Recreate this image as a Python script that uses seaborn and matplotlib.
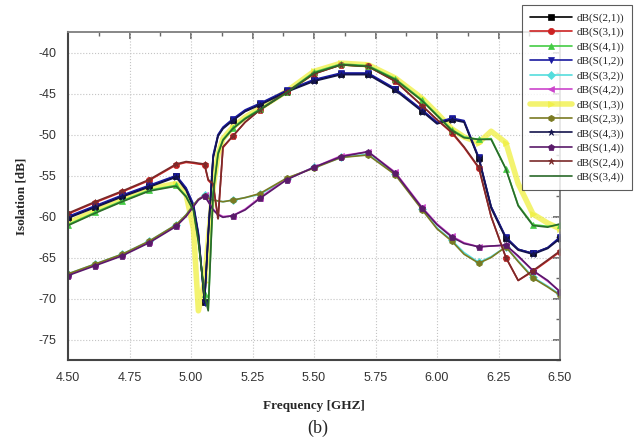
import matplotlib
matplotlib.use("Agg")
import matplotlib.pyplot as plt
import seaborn as sns
from matplotlib.ticker import MultipleLocator

sns.set_theme(style="white")
plt.rcParams['font.family'] = ['Liberation Sans', 'DejaVu Sans']
plt.rcParams['axes.unicode_minus'] = False

# Frequency grid (GHz)
freq = [4.50, 4.61, 4.72, 4.83, 4.94, 4.98, 5.01, 5.03, 5.055, 5.07, 5.09, 5.11, 5.13,
        5.17, 5.22, 5.28, 5.39, 5.50, 5.61, 5.72, 5.83, 5.94, 6.00, 6.06, 6.11, 6.17,
        6.22, 6.28, 6.33, 6.39, 6.45, 6.50]
marker_idx = [0, 1, 2, 3, 4, 8, 13, 15, 16, 17, 18, 19, 20, 21, 23, 25, 27, 29, 31]

s21 = [-60.1, -58.8, -57.5, -56.3, -55.1, -56.6, -58.7, -62.2, -70.4, -62.2, -52.7, -50.1, -49.2,
       -48.2, -47.1, -46.3, -44.7, -43.4, -42.6, -42.6, -44.5, -47.1, -48.6, -48.1, -48.4, -52.9,
       -58.8, -62.6, -64.0, -64.5, -63.8, -62.6]
s31 = [-59.7, -58.3, -57.0, -55.6, -53.7, -53.4, -53.5, -53.6, -53.7, -55.6, -56.2, -60.2, -51.6,
       -50.2, -48.5, -47.0, -44.8, -42.6, -41.5, -41.7, -43.5, -46.5, -48.2, -49.8, -51.6, -54.1,
       -60.0, -65.0, -67.8, -66.7, -65.4, -64.3]
s41 = [-61.0, -59.5, -58.1, -56.8, -56.2, -57.5, -59.2, -63.0, -69.5, -71.3, -57.0, -52.2, -50.6,
       -49.2, -48.0, -46.9, -44.8, -42.4, -41.4, -41.6, -43.2, -45.8, -47.6, -49.4, -50.3, -50.6,
       -50.5, -54.2, -58.6, -61.0, -61.2, -61.0]
s12 = [-60.0, -58.7, -57.4, -56.2, -55.0, -56.5, -58.5, -62.0, -70.5, -62.0, -52.5, -50.0, -49.1,
       -48.1, -47.0, -46.2, -44.6, -43.3, -42.5, -42.5, -44.4, -47.0, -48.5, -48.0, -48.3, -52.8,
       -58.8, -62.5, -64.0, -64.5, -63.8, -62.5]
s32 = [-67.0, -65.8, -64.6, -63.0, -61.0, -59.8, -58.6, -57.9, -57.4, -57.8, -58.0, -58.1, -58.2,
       -58.0, -57.7, -57.3, -55.4, -54.0, -52.8, -52.4, -54.8, -59.1, -61.4, -62.9, -64.4, -65.6,
       -64.9, -63.7, -65.4, -67.4, -68.5, -69.5]
s42 = [-67.1, -65.9, -64.7, -63.1, -61.1, -59.9, -58.7, -57.9, -57.4, -58.1, -59.1, -59.7, -60.0,
       -59.9, -59.1, -57.7, -55.4, -54.0, -52.6, -52.1, -54.6, -58.9, -60.9, -62.4, -63.2, -63.7,
       -63.6, -63.5, -64.9, -66.6, -67.9, -69.1]
s13 = [-60.8, -59.3, -57.9, -56.6, -56.0, -57.3, -61.5, -71.5, -68.0, -63.0, -56.5, -52.4, -50.5,
       -49.1, -47.9, -46.8, -44.7, -42.3, -41.3, -41.5, -43.1, -45.6, -47.4, -49.3, -50.3, -51.0,
       -49.6, -51.0, -56.0, -59.7, -60.8, -61.5]
s23 = [-67.0, -65.8, -64.6, -63.0, -61.0, -59.8, -58.6, -57.9, -57.5, -57.8, -58.0, -58.1, -58.2,
       -58.0, -57.7, -57.2, -55.3, -54.1, -52.8, -52.5, -54.9, -59.2, -61.5, -63.0, -64.6, -65.7,
       -65.0, -63.7, -65.5, -67.5, -68.6, -69.6]
s43 = [-60.2, -58.9, -57.6, -56.4, -55.2, -56.8, -58.9, -62.4, -70.3, -62.4, -52.9, -50.2, -49.3,
       -48.3, -47.2, -46.4, -44.8, -43.5, -42.7, -42.7, -44.6, -47.2, -48.7, -48.2, -48.5, -53.0,
       -59.0, -62.7, -64.1, -64.6, -63.9, -62.7]
s14 = [-67.2, -66.0, -64.8, -63.2, -61.2, -60.0, -58.8, -58.0, -57.5, -58.2, -59.2, -59.8, -60.1,
       -59.9, -59.2, -57.8, -55.5, -54.0, -52.7, -52.1, -54.7, -59.0, -61.0, -62.5, -63.3, -63.7,
       -63.6, -63.5, -64.8, -66.6, -67.8, -69.2]
s24 = [-59.6, -58.2, -56.9, -55.5, -53.6, -53.3, -53.4, -53.5, -53.6, -55.5, -56.0, -60.3, -51.5,
       -50.2, -48.5, -47.0, -44.8, -42.6, -41.5, -41.7, -43.5, -46.5, -48.2, -49.7, -51.5, -54.0,
       -60.0, -65.0, -67.8, -66.6, -65.3, -64.2]
s34 = [-61.1, -59.6, -58.2, -56.9, -56.3, -57.6, -59.3, -63.1, -69.6, -71.5, -57.2, -52.4, -50.7,
       -49.3, -48.1, -47.0, -44.9, -42.5, -41.5, -41.7, -43.3, -45.9, -47.7, -49.5, -50.4, -50.6,
       -50.6, -54.2, -58.7, -61.1, -61.3, -60.9]

series = [
    ("dB(S(2,1))", s21, "#000000", "s", 1.2),
    ("dB(S(3,1))", s31, "#cc2222", "o", 1.2),
    ("dB(S(4,1))", s41, "#44cc44", "^", 1.2),
    ("dB(S(1,2))", s12, "#1a1aa0", "v", 1.2),
    ("dB(S(3,2))", s32, "#55dddd", "D", 1.2),
    ("dB(S(4,2))", s42, "#cc44cc", "<", 1.2),
    ("dB(S(1,3))", s13, "#f0f040", ">", 4.0),
    ("dB(S(2,3))", s23, "#7a7a22", "h", 1.2),
    ("dB(S(4,3))", s43, "#14144d", "*", 1.2),
    ("dB(S(1,4))", s14, "#5a1a6a", "p", 1.2),
    ("dB(S(2,4))", s24, "#7a2a2a", "*", 1.2),
    ("dB(S(3,4))", s34, "#2a6a2a", "", 1.2),
]

fig = plt.figure(figsize=(6.37, 4.41), dpi=100)
ax = fig.add_axes([68/637, 1-360/441, (560-68)/637, (360-32)/441])

order = [6] + [i for i in range(len(series)) if i != 6]
for i in order:
    name, vals, col, mk, lw = series[i]
    sns.lineplot(x=freq, y=vals, ax=ax, color=col, linewidth=lw,
                 marker=mk if mk else None, markevery=marker_idx, markersize=4.5,
                 markeredgewidth=0.5, markeredgecolor=col, label=name,
                 zorder=1 if i == 6 else 2, alpha=0.75 if i == 6 else 1.0)

ax.set_xlim(4.5, 6.5)
ax.set_ylim(-77.5, -37.5)
ax.xaxis.set_minor_locator(MultipleLocator(0.125))
ax.yaxis.set_major_locator(MultipleLocator(5))
ax.yaxis.set_minor_locator(MultipleLocator(2.5))
ax.set_xticks([4.5, 4.75, 5.0, 5.25, 5.5, 5.75, 6.0, 6.25, 6.5])
ax.set_xticklabels(["4.50", "4.75", "5.00", "5.25", "5.50", "5.75", "6.00", "6.25", "6.50"])
ax.grid(True, which="major", linestyle=":", color="#c4c4c4", linewidth=0.8)

for side in ["left", "bottom"]:
    ax.spines[side].set_color("#444444")
    ax.spines[side].set_linewidth(1.5)
for side in ["top", "right"]:
    ax.spines[side].set_color("#888888")
    ax.spines[side].set_linewidth(1.2)

ax.tick_params(axis="both", which="major", direction="out", length=5, width=1.2,
               color="#444444", labelsize=9, labelcolor="#333333",
               top=False, right=False)
ax.tick_params(axis="both", which="minor", direction="out", length=3, width=1.0,
               color="#444444", top=False, right=False)
sec_x = ax.secondary_xaxis("top")
sec_x.set_xticks([4.5, 4.75, 5.0, 5.25, 5.5, 5.75, 6.0, 6.25, 6.5])
sec_x.xaxis.set_minor_locator(MultipleLocator(0.125))
sec_x.tick_params(which="major", direction="in", length=5, color="#666666", labeltop=False)
sec_x.tick_params(which="minor", direction="in", length=3, color="#666666")
sec_x.spines["top"].set_color("#888888")
sec_y = ax.secondary_yaxis("right")
sec_y.yaxis.set_major_locator(MultipleLocator(5))
sec_y.yaxis.set_minor_locator(MultipleLocator(2.5))
sec_y.tick_params(which="major", direction="in", length=5, color="#666666", labelright=False)
sec_y.tick_params(which="minor", direction="in", length=3, color="#666666")
sec_y.spines["right"].set_color("#888888")

serif = ["Liberation Serif", "DejaVu Serif"]
ax.set_xlabel("Frequency [GHZ]", fontsize=9.5, fontweight="bold", family=serif, labelpad=12)
ax.set_ylabel("Isolation [dB]", fontsize=9.5, fontweight="bold", family=serif, labelpad=8)
fig.text(318/637, 1-428/441, "(b)", ha="center", va="center", fontsize=13, family=serif)

handles, labels = ax.get_legend_handles_labels()
hmap = dict(zip(labels, handles))
names = [s[0] for s in series]
leg = fig.legend([hmap[n] for n in names], names, loc="upper left",
                 bbox_to_anchor=(522/637, 1-5/441), frameon=True, fancybox=False,
                 prop={"family": serif, "size": 8}, labelspacing=0.4,
                 handlelength=3.8, handletextpad=0.4, borderpad=0.7, borderaxespad=0)
leg.get_frame().set_edgecolor("#333333")
leg.get_frame().set_linewidth(0.8)
ax.get_legend().remove()

fig.savefig("out.png", dpi=100)
